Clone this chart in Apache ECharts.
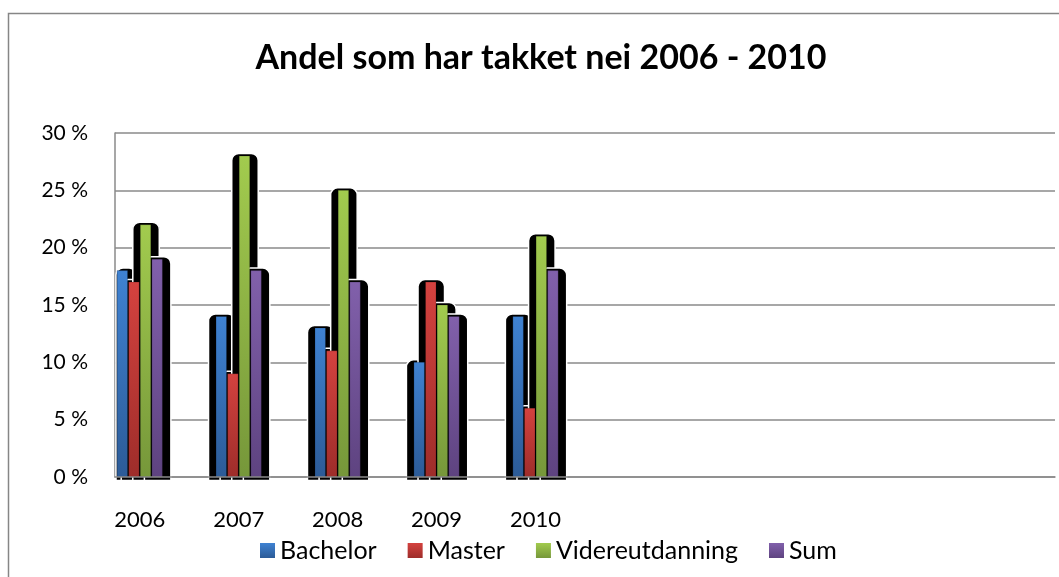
<!DOCTYPE html>
<html>
<head>
<meta charset="utf-8">
<title>Andel som har takket nei</title>
<script src="https://cdn.jsdelivr.net/npm/echarts@6/dist/echarts.min.js"></script>
<style>
  html, body { margin: 0; padding: 0; background: #fff; }
  #chart { width: 1059px; height: 577px; }
</style>
</head>
<body>
<div id="chart"></div>
<script>
// data (prosent)
var years = ['2006', '2007', '2008', '2009', '2010'];
var seriesNames = ['Bachelor', 'Master', 'Videreutdanning', 'Sum'];
var bachelor = [18, 14, 13, 10, 14];
var master = [17, 9, 11, 17, 6];
var videre = [22, 28, 25, 15, 21];
var sum = [19, 18, 17, 14, 18];
var yTicks = [0, 5, 10, 15, 20, 25, 30];

var allValues = [bachelor, master, videre, sum];
// farger: topp / bunn
var colors = [
  ['#3f82d2', '#2c5b97'],
  ['#d4423f', '#9e2d2a'],
  ['#a2cb4e', '#76973a'],
  ['#8160ab', '#5e4380']
];

var barW = 10.5;
var step = 11.6;
var font = 'Lato, "Open Sans", sans-serif';

function grad(c) {
  return new echarts.graphic.LinearGradient(0, 0, 0, 1, [
    { offset: 0, color: c[0] },
    { offset: 1, color: c[1] }
  ]);
}

function makeRender(sIdx) {
  var off = (sIdx - 1.5) * step;
  return function (params, api) {
    var i = api.value(0);
    var v = api.value(1);
    var base = api.coord([i, 0]);
    var top = api.coord([i, v]);
    var cs = params.coordSys;
    var x = base[0] + off - barW / 2;
    var gx0 = Math.max(cs.x + 1, x - 7.5);
    var gx1 = x + barW + 8.5;
    var gy0 = top[1] - 2.5;
    return {
      type: 'group',
      children: [{
        // svart skygge bak stolpen
        type: 'rect',
        z2: 0,
        shape: { x: gx0, y: gy0, width: gx1 - gx0, height: base[1] + 3.5 - gy0, r: [7, 7, 0, 0] },
        style: { fill: '#000', stroke: '#fff', lineWidth: 1.5 }
      }, {
        type: 'rect',
        z2: 10,
        shape: { x: x, y: top[1], width: barW, height: base[1] - top[1] },
        style: { fill: grad(colors[sIdx]), stroke: 'rgba(0,0,0,0.3)', lineWidth: 0.6 }
      }]
    };
  };
}

var series = [];
for (var s = 0; s < seriesNames.length; s++) {
  var d = [];
  for (var i = 0; i < years.length; i++) {
    d.push([i, allValues[s][i]]);
  }
  series.push({
    name: seriesNames[s],
    type: 'custom',
    renderItem: makeRender(s),
    encode: { x: 0, y: 1 },
    itemStyle: { color: grad(colors[s]) },
    data: d
  });
}

var chart = echarts.init(document.getElementById('chart'));
var option = {
  backgroundColor: '#fff',
  animation: false,
  title: {
    text: 'Andel som har takket nei 2006 - 2010',
    left: 541,
    textAlign: 'center',
    top: 41,
    padding: 0,
    textStyle: { fontFamily: font, fontWeight: 'bold', fontSize: 34, color: '#000' }
  },
  legend: {
    data: seriesNames,
    left: 255,
    top: 533,
    icon: 'rect',
    itemWidth: 15,
    itemHeight: 15,
    itemGap: 31,
    textStyle: { fontFamily: font, fontSize: 25, color: '#000' }
  },
  grid: { left: 115, right: 4, top: 133, bottom: 100 },
  xAxis: {
    type: 'value',
    min: -0.25,
    max: 9.25,
    z: 5,
    axisLine: { show: true, onZero: false, lineStyle: { color: '#8a8a8a', width: 1.5 } },
    axisTick: { show: false },
    splitLine: { show: false },
    axisLabel: {
      customValues: [0, 1, 2, 3, 4],
      formatter: function (v) { return years[Math.round(v)] || ''; },
      margin: 32,
      fontFamily: font,
      fontSize: 22,
      color: '#000'
    }
  },
  yAxis: {
    type: 'value',
    min: 0,
    max: 30,
    interval: 5,
    axisLine: { show: true, onZero: false, lineStyle: { color: '#8a8a8a', width: 1.5 } },
    axisTick: { show: false },
    splitLine: { lineStyle: { color: '#8a8a8a', width: 1.5 } },
    axisLabel: {
      formatter: function (v) { return yTicks.indexOf(v) >= 0 ? v + ' %' : ''; },
      margin: 27,
      fontFamily: font,
      fontSize: 21,
      color: '#000'
    }
  },
  graphic: [{
    type: 'rect',
    z: -1,
    shape: { x: 8.5, y: 13.5, width: 1100, height: 620 },
    style: { fill: 'none', stroke: '#868686', lineWidth: 1.5 }
  }],
  series: series
};
chart.setOption(option);
</script>
</body>
</html>
